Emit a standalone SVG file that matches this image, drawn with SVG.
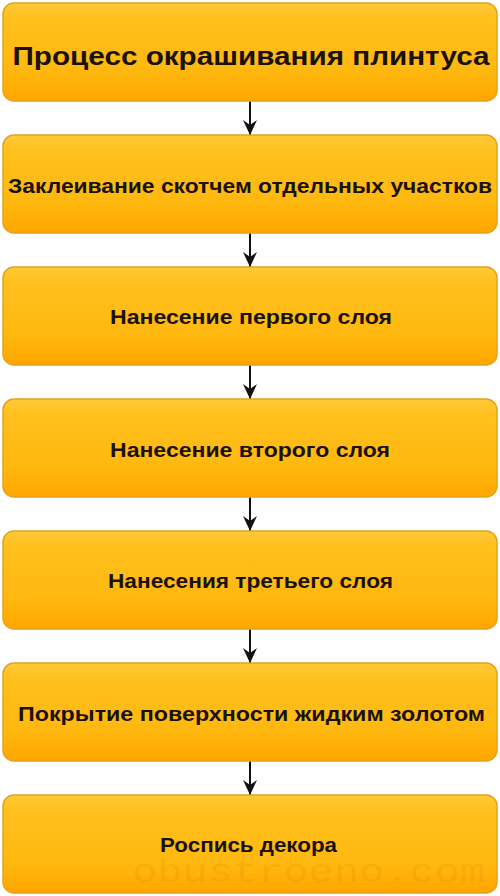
<svg xmlns="http://www.w3.org/2000/svg" width="500" height="896" viewBox="0 0 500 896">
<defs>
<linearGradient id="g" x1="0" y1="0" x2="0" y2="1">
<stop offset="0" stop-color="#FFCB3A"/>
<stop offset="0.15" stop-color="#FFC01E"/>
<stop offset="0.7" stop-color="#FFB80F"/>
<stop offset="1" stop-color="#FFA600"/>
</linearGradient>
<marker id="ah" viewBox="0 0 15 14" refX="15" refY="7" markerWidth="15" markerHeight="14" markerUnits="userSpaceOnUse" orient="auto">
<path d="M0,0 L5,7 L0,14 L15,7 Z" fill="#111"/>
</marker>
</defs>
<style>
.box{fill:url(#g);stroke:#E5A21A;stroke-width:1.5}
.t{font-family:"Liberation Sans","DejaVu Sans",sans-serif;font-weight:bold;fill:#1a1208;text-anchor:middle;font-size:21px}
.title{font-size:26px}
.c{stroke:#111;stroke-width:2;fill:none}
.wm{font-family:"Liberation Mono","DejaVu Sans Mono",monospace;font-size:34px;fill:#a06a00;fill-opacity:0.11}
</style>
<rect width="500" height="896" fill="#fff"/>
<g id="connectors">
<line class="c" x1="250" y1="101" x2="250" y2="135" marker-end="url(#ah)"/>
<line class="c" x1="250" y1="233" x2="250" y2="267" marker-end="url(#ah)"/>
<line class="c" x1="250" y1="365" x2="250" y2="399" marker-end="url(#ah)"/>
<line class="c" x1="250" y1="497" x2="250" y2="531" marker-end="url(#ah)"/>
<line class="c" x1="250" y1="629" x2="250" y2="663" marker-end="url(#ah)"/>
<line class="c" x1="250" y1="761" x2="250" y2="795" marker-end="url(#ah)"/>
</g>
<g id="n1"><rect class="box" x="3" y="3" width="494" height="98" rx="11"/><text class="t title" x="251" y="65" textLength="477" lengthAdjust="spacingAndGlyphs">Процесс окрашивания плинтуса</text></g>
<g id="n2"><rect class="box" x="3" y="135" width="494" height="98" rx="11"/><text class="t" x="250" y="193" textLength="484" lengthAdjust="spacingAndGlyphs">Заклеивание скотчем отдельных участков</text></g>
<g id="n3"><rect class="box" x="3" y="267" width="494" height="98" rx="11"/><text class="t" x="251" y="324" textLength="282" lengthAdjust="spacingAndGlyphs">Нанесение первого слоя</text></g>
<g id="n4"><rect class="box" x="3" y="399" width="494" height="98" rx="11"/><text class="t" x="250" y="457" textLength="280" lengthAdjust="spacingAndGlyphs">Нанесение второго слоя</text></g>
<g id="n5"><rect class="box" x="3" y="531" width="494" height="98" rx="11"/><text class="t" x="250.5" y="588" textLength="285" lengthAdjust="spacingAndGlyphs">Нанесения третьего слоя</text></g>
<g id="n6"><rect class="box" x="3" y="663" width="494" height="98" rx="11"/><text class="t" x="251.5" y="721" textLength="467" lengthAdjust="spacingAndGlyphs">Покрытие поверхности жидким золотом</text></g>
<g id="n7"><rect class="box" x="3" y="795" width="494" height="98" rx="11"/><text class="t" x="248.5" y="852" textLength="177" lengthAdjust="spacingAndGlyphs">Роспись декора</text></g>
<text class="wm" x="132" y="882" textLength="353" lengthAdjust="spacingAndGlyphs">obustroeno.com</text>
</svg>
